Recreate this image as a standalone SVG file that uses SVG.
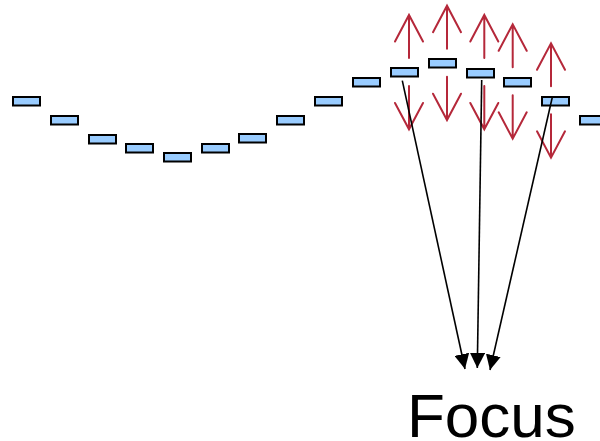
<svg xmlns="http://www.w3.org/2000/svg" width="600" height="441" viewBox="0 0 600 441">
<defs>
<style>
.el{fill:#99CCFF;stroke:#000;stroke-width:2}
.ra{fill:none;stroke:#B5283A;stroke-width:2;stroke-linecap:round}
.ray{fill:none;stroke:#000;stroke-width:1.6}
.lbl{font-family:"Liberation Sans",Arial,sans-serif;font-size:62px;fill:#000}
</style>
<marker id="ah" markerWidth="15" markerHeight="15" refX="15" refY="7.5" orient="auto" markerUnits="userSpaceOnUse">
<path d="M0,0 L15,7.5 L0,15 z" fill="#000"/>
</marker>
<path id="arr" d="M0,0 V43 M-14,26.5 L0,0 L14,26.5 M0,71 V114.3 M-14,88 L0,114.3 L14,88"/>
</defs>
<rect width="600" height="441" fill="#fff"/>
<g id="elements">
<rect id="e0" class="el" x="13" y="97" width="27" height="8.5"/>
<rect id="e1" class="el" x="51" y="116" width="27" height="8.5"/>
<rect id="e2" class="el" x="89" y="135" width="27" height="8.5"/>
<rect id="e3" class="el" x="126" y="144" width="27" height="8.5"/>
<rect id="e4" class="el" x="164" y="153" width="27" height="8.5"/>
<rect id="e5" class="el" x="202" y="144" width="27" height="8.5"/>
<rect id="e6" class="el" x="239" y="134" width="27" height="8.5"/>
<rect id="e7" class="el" x="277" y="116" width="27" height="8.5"/>
<rect id="e8" class="el" x="315" y="97" width="27" height="8.5"/>
<rect id="e9" class="el" x="353" y="78" width="27" height="8.5"/>
<rect id="e10" class="el" x="391" y="68" width="27" height="8.5"/>
<rect id="e11" class="el" x="429" y="59" width="27" height="8.5"/>
<rect id="e12" class="el" x="467" y="69" width="27" height="8.5"/>
<rect id="e13" class="el" x="504" y="78" width="27" height="8.5"/>
<rect id="e14" class="el" x="542" y="97" width="27" height="8.5"/>
<rect id="e15" class="el" x="580" y="116" width="27" height="8.5"/>
</g>
<g id="vibrations" class="ra">
<use href="#arr" x="409" y="15"/>
<use href="#arr" x="447" y="5.7"/>
<use href="#arr" x="484.3" y="15"/>
<use href="#arr" x="512.7" y="24.3"/>
<use href="#arr" x="551" y="43.3"/>
</g>
<g id="connectors" class="ray">
<line x1="402.3" y1="80.7" x2="465" y2="369" marker-end="url(#ah)"/>
<line x1="481.7" y1="80" x2="477.3" y2="368" marker-end="url(#ah)"/>
<line x1="552.3" y1="97.3" x2="490" y2="370" marker-end="url(#ah)"/>
</g>
<g id="focus">
<text class="lbl" x="407" y="437">Focus</text>
</g>
</svg>
